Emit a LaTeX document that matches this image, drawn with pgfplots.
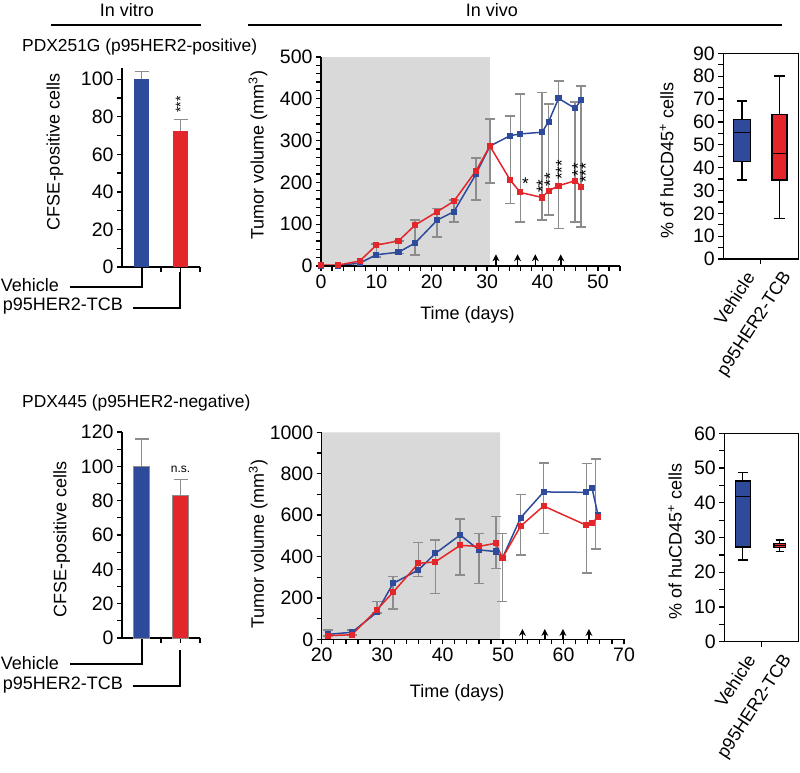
\documentclass[border=0pt]{standalone}
\usepackage{fontspec}
\setmainfont{Liberation Sans}
\usepackage{pgfplots}
\pgfplotsset{compat=1.18}
\usepgfplotslibrary{statistics}
\usetikzlibrary{arrows.meta}

\definecolor{vblue}{HTML}{2D4A9B}
\definecolor{tred}{HTML}{E3262A}
\definecolor{ebar}{HTML}{8C8C8C}
\definecolor{shade}{HTML}{D9D9D9}

\newcommand{\tickfont}{\fontsize{19.5}{19.5}\selectfont}
\newcommand{\labfont}{\fontsize{18}{18}\selectfont}

\pgfplotsset{
  myaxis/.style={
    scale only axis,
    axis line style={line width=1.3pt},
    every tick/.style={line width=1.3pt, black},
    major tick length=5pt, minor tick length=5pt,
    tick align=outside,
    tick label style={font=\tickfont},
    label style={font=\labfont},
    /pgf/number format/assume math mode=true,
    /pgf/number format/1000 sep={},
    clip=false,
  },
  gerr/.style={draw=none, mark=none, forget plot,
    error bars/.cd, y dir=both, y explicit,
    error bar style={draw=ebar, line width=1.6pt, solid},
    error mark options={rotate=90, draw=ebar, mark size=5pt, line width=1.6pt}},
  barerr/.style={error bars/.cd, y dir=plus, y explicit,
    error bar style={draw=ebar, line width=1.3pt, solid},
    error mark options={rotate=90, draw=ebar, mark size=7pt, line width=1.3pt}},
  bluel/.style={vblue, line width=1.5pt, mark=square*, mark size=2.3pt, mark options={solid}},
  redl/.style={tred, line width=1.5pt, mark=square*, mark size=2.3pt, mark options={solid}},
  arr/.style={black, line width=1.5pt, -{Stealth[length=7pt,width=7pt]}},
  boxlab/.style={extra x ticks={0.5,1.5}, extra x tick labels={Vehicle,p95HER2-TCB},
    extra x tick style={major tick length=0pt,
      tick label style={xshift=10pt, yshift=-12pt, rotate=57, anchor=east, font=\labfont}}},
}

\begin{document}
\begin{tikzpicture}
\path[use as bounding box] (0,0) rectangle (800pt,-772pt);

% ---------- headers ----------
\node[font=\labfont] at (127pt,-10pt) {In vitro};
\draw[line width=1.3pt] (51pt,-25pt) -- (201pt,-25pt);
\node[font=\labfont] at (492pt,-10pt) {In vivo};
\draw[line width=1.3pt] (248pt,-25pt) -- (782pt,-25pt);
\node[font=\fontsize{17.4}{17.4}\selectfont, anchor=west, inner sep=0pt] at (22pt,-47pt) {PDX251G (p95HER2-positive)};
\node[font=\fontsize{17.4}{17.4}\selectfont, anchor=west, inner sep=0pt] at (22pt,-403pt) {PDX445 (p95HER2-negative)};

% ---------- brackets ----------
\node[font=\labfont, anchor=east, inner sep=0pt] at (59pt,-285pt) {Vehicle};
\draw[line width=1.3pt] (142pt,-267pt) -- (142pt,-287pt) -- (70pt,-287pt);
\node[font=\labfont, anchor=east, inner sep=0pt] at (123pt,-306pt) {p95HER2-TCB};
\draw[line width=1.3pt] (180pt,-272pt) -- (180pt,-308pt) -- (133pt,-308pt);
\node[font=\labfont, anchor=east, inner sep=0pt] at (59pt,-663pt) {Vehicle};
\draw[line width=1.3pt] (142pt,-638pt) -- (142pt,-664pt) -- (70pt,-664pt);
\node[font=\labfont, anchor=east, inner sep=0pt] at (123pt,-685pt) {p95HER2-TCB};
\draw[line width=1.3pt] (180pt,-650pt) -- (180pt,-686pt) -- (133pt,-686pt);

% ---------- top-left bars ----------
\begin{axis}[myaxis, at={(122pt,-267pt)}, anchor=south west,
  width=78pt, height=199pt, xmin=0.5, xmax=2.5, ymin=0, ymax=106,
  axis x line*=bottom, axis y line*=left,
  xtick={1,1.5,2,2.5}, xticklabels={},
  ytick={0,20,...,100}, minor ytick={10,30,...,90},
  ylabel={CFSE-positive cells},
  ylabel style={at={(axis description cs:-0.86,0.578)}, anchor=center}]
\addplot[ybar, bar shift=0pt, bar width=0.41, fill=vblue, draw=none, barerr]
  coordinates {(1,100) +- (0,4.3)};
\addplot[ybar, bar shift=0pt, bar width=0.41, fill=tred, draw=none, barerr]
  coordinates {(2,72.3) +- (0,6.4)};
\node[font=\fontsize{14}{14}\selectfont, rotate=90, inner sep=0pt] at (axis cs:2,86.5) {***};
\end{axis}

% ---------- bottom-left bars ----------
\begin{axis}[myaxis, at={(122pt,-638pt)}, anchor=south west,
  width=78pt, height=206pt, xmin=0.5, xmax=2.5, ymin=0, ymax=120,
  axis x line*=bottom, axis y line*=left,
  xtick={1,1.5,2,2.5}, xticklabels={},
  ytick={0,20,...,120}, minor ytick={10,30,...,110},
  ylabel={CFSE-positive cells},
  ylabel style={at={(axis description cs:-0.773,0.48)}, anchor=center}]
\addplot[ybar, bar shift=0pt, bar width=0.41, fill=vblue, draw=ebar, line width=1pt, barerr]
  coordinates {(1,100) +- (0,16)};
\addplot[ybar, bar shift=0pt, bar width=0.41, fill=tred, draw=ebar, line width=1pt, barerr]
  coordinates {(2,83) +- (0,9.4)};
\node[font=\fontsize{12}{12}\selectfont] at (axis cs:2,98.5) {n.s.};
\end{axis}

% ---------- top-middle line chart ----------
\begin{axis}[myaxis, at={(321pt,-266pt)}, anchor=south west,
  width=299pt, height=209pt, xmin=0, xmax=54, ymin=0, ymax=500,
  axis x line*=bottom, axis y line*=left, axis on top,
  xtick={0,10,...,50}, minor xtick={0,2,...,54},
  ytick={0,100,...,500}, minor ytick={0,20,...,500},
  xlabel={Time (days)},
  xlabel style={at={(axis description cs:0.49,-0.234)}, anchor=center},
  ylabel={Tumor volume (mm\textsuperscript{3})},
  ylabel style={at={(axis description cs:-0.211,0.531)}, anchor=center}]
\addplot[fill=shade, draw=none, forget plot] coordinates {(0,0) (30.5,0) (30.5,500) (0,500) (0,0)};
\addplot[gerr] coordinates {
 (10,37) +- (0,15)  (14,45) +- (0,15)  (17,68) +- (0,42)  (21,104) +- (0,34)
 (24,132) +- (0,26) (28,208.5) +- (0,50.5) (30.5,274.5) +- (0,76.5)
 (34.2,254.5) +- (0,104.5) (36,259) +- (0,153) (39.9,262.5) +- (0,152.5)
 (41.1,254.5) +- (0,132.5) (42.9,266.5) +- (0,176.5) (45.9,249.5) +- (0,143.5)
 (47,262) +- (0,168)};
\addplot[bluel] coordinates {(0,1) (3,1) (7,7) (10,27) (14,33) (17,55) (21,110) (24,130)
 (28,220) (30.5,287) (34.2,312) (36,316) (39.9,320) (41.1,345) (42.9,401) (45.9,377) (47,398)};
\addplot[redl] coordinates {(0,2) (3,2) (7,12) (10,50) (14,60) (17,98) (21,130) (24,155)
 (28,228) (30.5,287) (34.2,205) (36,176) (39.9,164) (41.1,180) (42.9,192) (45.9,204) (47,190)};
\addplot[arr, quiver={u=0, v=28}] coordinates {(31.6,0) (35.5,0) (38.7,0) (43.3,0)};
\node[font=\fontsize{17}{17}\selectfont, inner sep=0pt] at (axis cs:36.9,196) {*};
\node[font=\fontsize{17}{17}\selectfont, rotate=90, inner sep=0pt] at (axis cs:40.0,191) {**};
\node[font=\fontsize{17}{17}\selectfont, rotate=90, inner sep=0pt] at (axis cs:41.4,207) {**};
\node[font=\fontsize{17}{17}\selectfont, rotate=90, inner sep=0pt] at (axis cs:43.5,230) {***};
\node[font=\fontsize{17}{17}\selectfont, rotate=90, inner sep=0pt] at (axis cs:46.4,231) {**};
\node[font=\fontsize{17}{17}\selectfont, rotate=90, inner sep=0pt] at (axis cs:47.8,223) {***};
\end{axis}

% ---------- bottom-middle line chart ----------
\begin{axis}[myaxis, at={(321.7pt,-639.3pt)}, anchor=south west,
  width=302.3pt, height=207pt, xmin=20, xmax=70, ymin=0, ymax=1000,
  axis x line*=bottom, axis y line*=left, axis on top,
  xtick={20,30,...,70}, minor xtick={20,22,...,70},
  ytick={0,200,...,1000}, minor ytick={0,100,...,1000},
  xlabel={Time (days)},
  xlabel style={at={(axis description cs:0.448,-0.26)}, anchor=center},
  ylabel={Tumor volume (mm\textsuperscript{3})},
  ylabel style={at={(axis description cs:-0.21,0.46)}, anchor=center}]
\addplot[fill=shade, draw=none, forget plot] coordinates {(20,0) (49.5,0) (49.5,1000) (20,1000) (20,0)};
\addplot[gerr] coordinates {
 (21,30) +- (0,15) (25,32.5) +- (0,12.5) (29.1,154) +- (0,28) (31.8,225) +- (0,78)
 (36,385) +- (0,82) (38.8,351) +- (0,129) (42.9,445.5) +- (0,134.5) (46,391) +- (0,121)
 (48.8,468) +- (0,125) (49.9,347) +- (0,165) (52.9,553.5) +- (0,146.5)
 (56.7,682.5) +- (0,170.5) (63.8,584.5) +- (0,265.5) (65.3,652.5) +- (0,217.5)};
\addplot[bluel] coordinates {(21,24) (25,34) (29.1,130) (31.8,270) (36,335) (38.8,415)
 (42.9,504) (46,432) (48.8,424) (49.9,393) (52.9,587) (56.7,712) (63.7,710) (64.7,733) (65.7,600)};
\addplot[redl] coordinates {(21,18) (25,22) (29.1,142) (31.8,227) (36,367) (38.8,374)
 (42.9,454) (46,449) (48.8,464) (49.9,393) (52.9,547) (56.7,644) (63.7,552) (64.7,562) (65.7,590)};
\addplot[arr, quiver={u=0, v=50}] coordinates {(53.2,0) (56.9,0) (59.9,0) (64.2,0)};
\end{axis}

% ---------- top-right box plot ----------
\begin{axis}[myaxis, at={(723.3pt,-259pt)}, anchor=south west,
  width=75pt, height=205.7pt, xmin=0, xmax=2, ymin=0, ymax=90,
  tick pos=left, boxplot/draw direction=y,
  xtick={1}, xticklabels={}, boxlab,
  ytick={0,10,...,90}, minor ytick={5,15,...,85},
  ylabel={\% of huCD45\textsuperscript{+} cells},
  ylabel style={at={(axis description cs:-0.755,0.48)}, anchor=center}]
\addplot[fill=vblue, draw=black, line width=1.3pt,
  boxplot prepared={draw position=0.5, lower whisker=34.6, lower quartile=42.6,
  median=55.3, upper quartile=61.1, upper whisker=69.1, box extend=0.44, whisker extend=0.285}]
  coordinates {};
\addplot[fill=tred, draw=black, line width=1.3pt,
  boxplot prepared={draw position=1.5, lower whisker=17.8, lower quartile=34.6,
  median=46.2, upper quartile=63.3, upper whisker=80.1, box extend=0.40, whisker extend=0.31}]
  coordinates {};
\end{axis}

% ---------- bottom-right box plot ----------
\begin{axis}[myaxis, at={(724.3pt,-641.7pt)}, anchor=south west,
  width=74pt, height=208.4pt, xmin=0, xmax=2, ymin=0, ymax=60,
  tick pos=left, boxplot/draw direction=y,
  xtick={1}, xticklabels={}, boxlab,
  ytick={0,10,...,60}, minor ytick={5,15,...,55},
  ylabel={\% of huCD45\textsuperscript{+} cells},
  ylabel style={at={(axis description cs:-0.666,0.48)}, anchor=center}]
\addplot[fill=vblue, draw=black, line width=1.3pt,
  boxplot prepared={draw position=0.5, lower whisker=23.5, lower quartile=27.3,
  median=41.8, upper quartile=46.3, upper whisker=48.7, box extend=0.40, whisker extend=0.27}]
  coordinates {};
\addplot[fill=tred, draw=black, line width=1.3pt,
  boxplot prepared={draw position=1.5, lower whisker=25.9, lower quartile=27.2,
  median=27.8, upper quartile=28.3, upper whisker=29.3, box extend=0.32, whisker extend=0.22}]
  coordinates {};
\end{axis}
\end{tikzpicture}
\end{document}
